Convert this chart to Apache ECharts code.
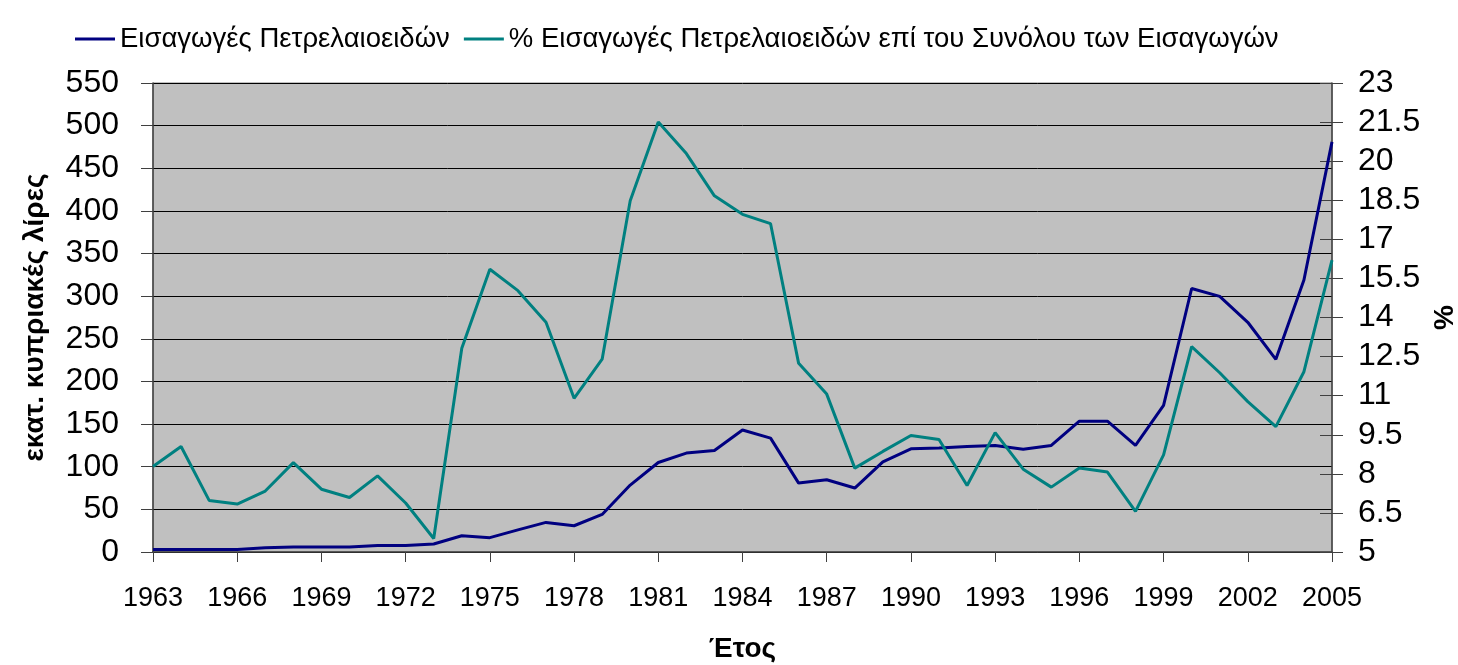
<!DOCTYPE html>
<html>
<head>
<meta charset="utf-8">
<script src="https://cdn.jsdelivr.net/npm/echarts@6/dist/echarts.min.js"></script>
<style>
  html, body { margin: 0; padding: 0; background: #fff; }
  #chart { width: 1458px; height: 665px; }
</style>
</head>
<body>
<div id="chart"></div>
<script>
var years = [];
for (var y = 1963; y <= 2005; y++) { years.push(String(y)); }

// εκατ. κυπριακές λίρες
var imports = [3, 3, 3, 3, 5, 6, 6, 6, 7.5, 7.5, 9.4, 19, 16.8, 26, 34.7,
  30.8, 44, 78.5, 105, 116, 119, 143, 133.5, 80.8, 84.7, 75, 105.8, 121, 122,
  123.7, 124.9, 120.6, 125, 153.4, 153.4, 125, 172, 309, 299.8, 269.4, 226, 319, 481];

// % επί του συνόλου
var share = [8.28, 9.05, 6.98, 6.84, 7.34, 8.43, 7.41, 7.09, 7.92, 6.88, 5.52, 12.82, 15.85, 15.03, 13.82,
  10.9, 12.4, 18.48, 21.5, 20.29, 18.67, 17.96, 17.6, 12.24, 11.06, 8.22, 8.86, 9.47, 9.32,
  7.55, 9.58, 8.18, 7.49, 8.22, 8.07, 6.56, 8.73, 12.88, 11.88, 10.77, 9.81, 11.92, 16.2];

var seriesNames = ['Εισαγωγές Πετρελαιοειδών', '% Εισαγωγές Πετρελαιοειδών επί του Συνόλου των Εισαγωγών'];

var font = 'Liberation Sans, Arial, sans-serif';

var dom = document.getElementById('chart');
var myChart = echarts.init(dom);

var option = {
    animation: false,
    color: ['#000080', '#008080'],
    legend: {
        data: [
            { name: seriesNames[0], icon: 'rect' },
            { name: seriesNames[1], icon: 'rect' }
        ],
        left: 70,
        top: 20,
        itemWidth: 40,
        itemHeight: 3,
        itemGap: 14,
        textStyle: { fontFamily: font, fontSize: 27.5, color: '#000' }
    },
    grid: {
        left: 153,
        right: 126,
        top: 83,
        bottom: 113,
        outerBoundsMode: 'none',
        show: true,
        backgroundColor: '#c0c0c0',
        borderColor: '#808080',
        borderWidth: 1
    },
    xAxis: {
        type: 'category',
        data: years,
        boundaryGap: false,
        name: 'Έτος',
        nameLocation: 'middle',
        nameGap: 83,
        nameTextStyle: { fontFamily: font, fontSize: 28, fontWeight: 'bold', color: '#000' },
        axisLine: { lineStyle: { color: '#404040', width: 1.5 } },
        axisTick: { interval: 2, length: 10, lineStyle: { color: '#404040' } },
        axisLabel: { interval: 2, margin: 33, fontFamily: font, fontSize: 27, color: '#000' },
        splitLine: { show: false }
    },
    yAxis: [
        {
            type: 'value',
            min: 0,
            max: 550,
            interval: 50,
            name: 'εκατ. κυπριακές λίρες',
            nameLocation: 'middle',
            nameGap: 104,
            nameTextStyle: { fontFamily: font, fontSize: 28, fontWeight: 'bold', color: '#000' },
            axisLine: { show: true, lineStyle: { color: '#404040', width: 1.5 } },
            axisTick: { show: true, length: 12, lineStyle: { color: '#404040' } },
            axisLabel: { margin: 34, fontFamily: font, fontSize: 32, color: '#000' },
            splitLine: { show: true, lineStyle: { color: '#000', width: 1 } }
        },
        {
            type: 'value',
            position: 'right',
            min: 5,
            max: 23,
            interval: 1.5,
            name: '%',
            nameLocation: 'middle',
            nameGap: 96,
            nameTextStyle: { fontFamily: font, fontSize: 28, fontWeight: 'bold', color: '#000' },
            axisLine: { show: true, lineStyle: { color: '#404040', width: 1.5 } },
            axisTick: { show: true, length: 11, lineStyle: { color: '#404040' } },
            axisLabel: { margin: 26, fontFamily: font, fontSize: 32, color: '#000' },
            splitLine: { show: false }
        },
        {
            // inside half of the crossing ticks on the right axis
            type: 'value',
            position: 'right',
            min: 5,
            max: 23,
            interval: 1.5,
            axisLine: { show: false },
            axisTick: { show: true, inside: true, length: 12, lineStyle: { color: '#404040' } },
            axisLabel: { show: false },
            splitLine: { show: false }
        }
    ],
    series: [
        {
            name: seriesNames[0],
            type: 'line',
            yAxisIndex: 0,
            data: imports,
            symbol: 'none',
            lineStyle: { width: 3, color: '#000080' }
        },
        {
            name: seriesNames[1],
            type: 'line',
            yAxisIndex: 1,
            data: share,
            symbol: 'none',
            lineStyle: { width: 3, color: '#008080' }
        }
    ]
};

myChart.setOption(option);
</script>
</body>
</html>
